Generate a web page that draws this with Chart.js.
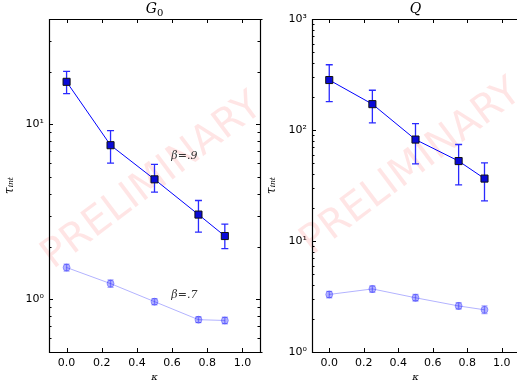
<!DOCTYPE html>
<html>
<head>
<meta charset="utf-8">
<script src="https://cdn.jsdelivr.net/npm/chart.js@4.4.1/dist/chart.umd.min.js"></script>
<style>
  html, body { margin: 0; padding: 0; background: #fff; overflow: hidden; }
  #wrap { position: relative; width: 517px; height: 383px; overflow: hidden; background: #fff; }
  #g0-chart { position: absolute; left: 0; top: 0; }
  #q-chart { position: absolute; left: 262px; top: 0; }
</style>
</head>
<body>
<div id="wrap">
  <canvas id="g0-chart" width="292" height="383"></canvas>
  <canvas id="q-chart" width="263" height="383"></canvas>
</div>
<script>
// kappa values (x)
const kappa = [0, 0.25, 0.5, 0.75, 0.9];

// G0 panel, beta = .9 (with error bars)
const g0Beta9 = [17.5, 7.6, 4.85, 3.05, 2.3];
const g0Beta9Lo = [15.0, 6.0, 4.1, 2.42, 1.95];
const g0Beta9Hi = [20.1, 9.2, 5.9, 3.67, 2.69];
// G0 panel, beta = .7
const g0Beta7 = [1.52, 1.23, 0.97, 0.765, 0.757];
const g0Beta7Lo = [1.45, 1.17, 0.93, 0.735, 0.725];
const g0Beta7Hi = [1.59, 1.29, 1.01, 0.795, 0.79];

// Q panel, beta = .9
const qBeta9 = [282, 171, 82, 52.5, 36.5];
const qBeta9Lo = [180, 116, 49.5, 32, 23];
const qBeta9Hi = [387, 228, 114, 74, 50.5];
// Q panel, beta = .7
const qBeta7 = [3.3, 3.7, 3.08, 2.6, 2.4];
const qBeta7Lo = [3.08, 3.45, 2.88, 2.43, 2.22];
const qBeta7Hi = [3.52, 3.95, 3.3, 2.78, 2.6];

// ticks
const xTicks = [0, 0.2, 0.4, 0.6, 0.8, 1.0];
const g0Decades = [1, 10];
const g0Minor = [0.5, 0.6, 0.7, 0.8, 0.9, 2, 3, 4, 5, 6, 7, 8, 9, 20, 30, 40];
const qDecades = [1, 10, 100, 1000];
const qMinor = [2, 3, 4, 5, 6, 7, 8, 9, 20, 30, 40, 50, 60, 70, 80, 90,
  200, 300, 400, 500, 600, 700, 800, 900];
const decadeLabels = { 1: '10⁰', 10: '10¹', 100: '10²', 1000: '10³' };

const DARK_LINE = '#0000ff';
const DARK_FILL = '#0a0ad8';
const DARK_ERR = '#2a2aff';
const LIGHT = 'rgba(0, 0, 255, 0.3)';
const LIGHT_ERR = 'rgba(0, 0, 255, 0.35)';

const toPoints = (vals) => kappa.map((k, i) => ({ x: k, y: vals[i] }));

// error bars drawn from each dataset's errLo / errHi arrays
const errorBars = {
  id: 'errorBars',
  beforeDatasetsDraw(chart) {
    const ctx = chart.ctx;
    const y = chart.scales.y;
    chart.data.datasets.forEach((ds, i) => {
      if (!ds.errLo) return;
      const meta = chart.getDatasetMeta(i);
      ctx.save();
      ctx.strokeStyle = ds.errColor;
      ctx.lineWidth = 1.3;
      meta.data.forEach((pt, j) => {
        const top = y.getPixelForValue(ds.errHi[j]);
        const bot = y.getPixelForValue(ds.errLo[j]);
        const cap = ds.capHalf;
        ctx.beginPath();
        ctx.moveTo(pt.x, top);
        ctx.lineTo(pt.x, bot);
        ctx.moveTo(pt.x - cap, top);
        ctx.lineTo(pt.x + cap, top);
        ctx.moveTo(pt.x - cap, bot);
        ctx.lineTo(pt.x + cap, bot);
        ctx.stroke();
      });
      ctx.restore();
    });
  },
};

// PRELIMINARY stamp behind the data
const watermark = {
  id: 'watermark',
  beforeDatasetsDraw(chart, args, opts) {
    const { left, right, top, bottom } = chart.chartArea;
    const ctx = chart.ctx;
    ctx.save();
    ctx.translate((left + right) / 2 + opts.dx, (top + bottom) / 2 + opts.dy);
    ctx.rotate(-37 * Math.PI / 180);
    ctx.font = '40px "DejaVu Sans"';
    ctx.fillStyle = 'rgba(255, 0, 0, 0.1)';
    ctx.textAlign = 'center';
    ctx.textBaseline = 'middle';
    ctx.fillText('PRELIMINARY', 0, 0);
    ctx.restore();
  },
};

// box, inward ticks on all sides, panel title and beta notes
const frame = {
  id: 'frame',
  afterDraw(chart, args, opts) {
    const { left, right, top, bottom } = chart.chartArea;
    const ctx = chart.ctx;
    const xs = chart.scales.x;
    const ys = chart.scales.y;
    ctx.save();
    ctx.strokeStyle = '#000';
    ctx.lineWidth = 1;
    ctx.beginPath();
    xTicks.forEach((v) => {
      const px = Math.round(xs.getPixelForValue(v)) + 0.5;
      ctx.moveTo(px, bottom); ctx.lineTo(px, bottom - 4);
      ctx.moveTo(px, top); ctx.lineTo(px, top + 4);
    });
    opts.decades.forEach((v) => {
      const py = Math.round(ys.getPixelForValue(v)) + 0.5;
      ctx.moveTo(left, py); ctx.lineTo(left + 4, py);
      if (opts.rightTicks) { ctx.moveTo(right, py); ctx.lineTo(right - 4, py); }
    });
    opts.minor.forEach((v) => {
      const py = Math.round(ys.getPixelForValue(v)) + 0.5;
      ctx.moveTo(left, py); ctx.lineTo(left + 2.5, py);
      if (opts.rightTicks) { ctx.moveTo(right, py); ctx.lineTo(right - 2.5, py); }
    });
    ctx.stroke();

    // axes box; the Q panel's right side falls outside the picture
    const l = Math.round(left) + 0.5;
    const r = Math.round(right) + 0.5;
    const t = Math.round(top) + 0.5;
    const b = Math.round(bottom) + 0.5;
    ctx.lineWidth = 1.2;
    ctx.beginPath();
    ctx.moveTo(r + 2, t); ctx.lineTo(l, t); ctx.lineTo(l, b); ctx.lineTo(r + 2, b);
    if (opts.rightTicks) { ctx.moveTo(r, t); ctx.lineTo(r, b); }
    ctx.stroke();

    // title, with an optional lowered subscript
    ctx.fillStyle = '#000';
    ctx.textBaseline = 'alphabetic';
    const cx = (left + right) / 2;
    ctx.font = 'italic 14px "DejaVu Serif"';
    const mainW = ctx.measureText(opts.title).width;
    ctx.font = '10px "DejaVu Serif"';
    const subW = opts.sub ? ctx.measureText(opts.sub).width : 0;
    const x0 = cx - (mainW + subW) / 2;
    ctx.textAlign = 'left';
    ctx.font = 'italic 14px "DejaVu Serif"';
    ctx.fillText(opts.title, x0, top - 6);
    if (opts.sub) {
      ctx.font = '10px "DejaVu Serif"';
      ctx.fillText(opts.sub, x0 + mainW, top - 3);
    }

    ctx.textAlign = 'center';
    ctx.font = 'italic 11px "DejaVu Serif"';
    ctx.fillStyle = '#333';
    (opts.notes || []).forEach((n) => {
      ctx.fillText(n.text, xs.getPixelForValue(n.x), ys.getPixelForValue(n.y));
    });
    ctx.restore();
  },
};

function makePanel(canvas, cfg) {
  return new Chart(canvas, {
    type: 'line',
    data: {
      datasets: [
        {
          data: toPoints(cfg.dark),
          errLo: cfg.darkLo,
          errHi: cfg.darkHi,
          errColor: DARK_ERR,
          capHalf: 3.5,
          borderColor: DARK_LINE,
          borderWidth: 1,
          pointStyle: 'rect',
          pointRadius: 5,
          pointBackgroundColor: DARK_FILL,
          pointBorderColor: '#111',
          pointBorderWidth: 1,
          tension: 0,
        },
        {
          data: toPoints(cfg.light),
          errLo: cfg.lightLo,
          errHi: cfg.lightHi,
          errColor: LIGHT_ERR,
          capHalf: 3,
          borderColor: LIGHT,
          borderWidth: 1,
          pointStyle: 'circle',
          pointRadius: 3.5,
          pointBackgroundColor: LIGHT,
          pointBorderColor: LIGHT,
          pointBorderWidth: 1,
          tension: 0,
        },
      ],
    },
    options: {
      responsive: false,
      animation: false,
      layout: { padding: { top: 19, right: cfg.padRight, left: 0, bottom: 0 } },
      plugins: {
        legend: { display: false },
        tooltip: { enabled: false },
        watermark: { dx: cfg.wmDx, dy: cfg.wmDy },
        frame: {
          title: cfg.title, sub: cfg.sub, decades: cfg.decades, minor: cfg.minor,
          notes: cfg.notes, rightTicks: cfg.rightTicks,
        },
      },
      scales: {
        x: {
          type: 'linear',
          min: -0.1,
          max: 1.1,
          afterBuildTicks: (s) => { s.ticks = xTicks.map((v) => ({ value: v })); },
          afterFit: (s) => { s.height = 31; },
          grid: { display: false, drawTicks: false },
          border: { display: false },
          ticks: {
            autoSkip: false,
            maxRotation: 0,
            padding: 5,
            color: '#000',
            font: { family: 'DejaVu Sans', size: 11 },
            callback: (v) => Number(v).toFixed(1),
          },
          title: {
            display: true,
            text: 'κ',
            color: '#000',
            padding: { top: 1, bottom: 0 },
            font: { family: 'DejaVu Serif', style: 'italic', size: 10 },
          },
        },
        y: {
          type: 'logarithmic',
          min: cfg.yMin,
          max: cfg.yMax,
          afterBuildTicks: (s) => { s.ticks = cfg.decades.map((v) => ({ value: v })); },
          afterFit: (s) => { s.width = cfg.yWidth; },
          grid: { display: false, drawTicks: false },
          border: { display: false },
          ticks: {
            autoSkip: false,
            padding: 5,
            color: '#000',
            font: { family: 'DejaVu Sans', size: 11 },
            callback: (v) => decadeLabels[v] || '',
          },
          title: {
            display: true,
            text: 'τᵢₙₜ',
            color: '#000',
            padding: { top: 3, bottom: 0 },
            font: { family: 'DejaVu Serif', style: 'italic', size: 12 },
          },
        },
      },
    },
    plugins: [watermark, errorBars, frame],
  });
}

makePanel(document.getElementById('g0-chart'), {
  title: 'G', sub: '0',
  dark: g0Beta9, darkLo: g0Beta9Lo, darkHi: g0Beta9Hi,
  light: g0Beta7, lightLo: g0Beta7Lo, lightHi: g0Beta7Hi,
  yMin: 0.5, yMax: 40,
  decades: g0Decades, minor: g0Minor,
  yWidth: 49, padRight: 32, rightTicks: true,
  wmDx: -2, wmDy: -4,
  notes: [{ text: 'β=.9', x: 0.67, y: 6.3 }, { text: 'β=.7', x: 0.67, y: 1.02 }],
});

makePanel(document.getElementById('q-chart'), {
  title: 'Q', sub: '',
  dark: qBeta9, darkLo: qBeta9Lo, darkHi: qBeta9Hi,
  light: qBeta7, lightLo: qBeta7Lo, lightHi: qBeta7Hi,
  yMin: 1, yMax: 1000,
  decades: qDecades, minor: qMinor,
  yWidth: 50, padRight: 1, rightTicks: false,
  wmDx: -4, wmDy: -18,
  notes: [],
});
</script>
</body>
</html>
